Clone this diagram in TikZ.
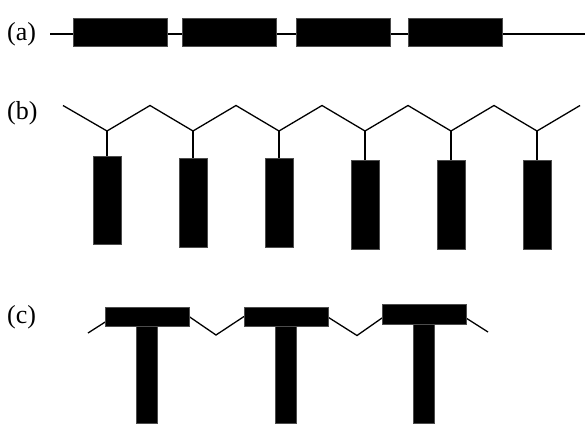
\documentclass[tikz,border=0pt]{standalone}
\usepackage{fontspec}
\setmainfont{Liberation Serif}
\usetikzlibrary{positioning}
\tikzset{
  chain/.style={line width=1.3pt},
  blk/.style={fill=black, draw=black!70, line width=0.4pt},
  tag/.style={font=\fontsize{26}{28}\selectfont, inner sep=0pt, anchor=west}
}
\begin{document}
\begin{tikzpicture}[x=1pt,y=-1pt]
  \useasboundingbox (0,0) rectangle (585,423);
  % (a) linear chain of blocks
  \node[tag] (la) at (7,34) {(a)};
  \coordinate (a0) at (50,34);
  \coordinate (a5) at (585,34);
  \draw[chain] (a0) -- (a5);
  \foreach \x [count=\i] in {73,182,296,408}
    \draw[blk] (\x,18) rectangle ++(94,28);

  % (b) zigzag backbone with hanging blocks
  \node[tag] (lb) at (7,113) {(b)};
  \draw[chain] (63,105.5) \foreach \v in {107,193,279,365,451} {-- (\v,131) -- ++(43,-25.5)} -- (537,131) -- (580,105.5);
  \foreach \v/\t/\b in {107/156/244, 193/158/247, 279/158/247, 365/160/249, 451/160/249, 537/160/249} {
    \coordinate (v\v) at (\v,131);
    \draw[chain] (v\v) -- (\v,\t);
    \draw[blk] (\v-14,\t) rectangle (\v+14,\b);
  }

  % (c) T-shaped units on a zigzag
  \node[tag] (lc) at (7,317) {(c)};
  \draw[chain] (88,333) -- (106,321.5);
  \draw[chain] (189,316.5) -- (216,335) -- (244,316.5);
  \draw[chain] (327,316.5) -- (357,335.5) -- (382,318);
  \draw[chain] (466,318) -- (488,332);
  \foreach \x/\y in {105/307, 244/307, 382/304.5} {
    \draw[blk] (\x,\y) rectangle ++(84,19.5);
    \draw[blk] (\x+31,\y+19.5) rectangle (\x+52,423);
  }
\end{tikzpicture}
\end{document}
